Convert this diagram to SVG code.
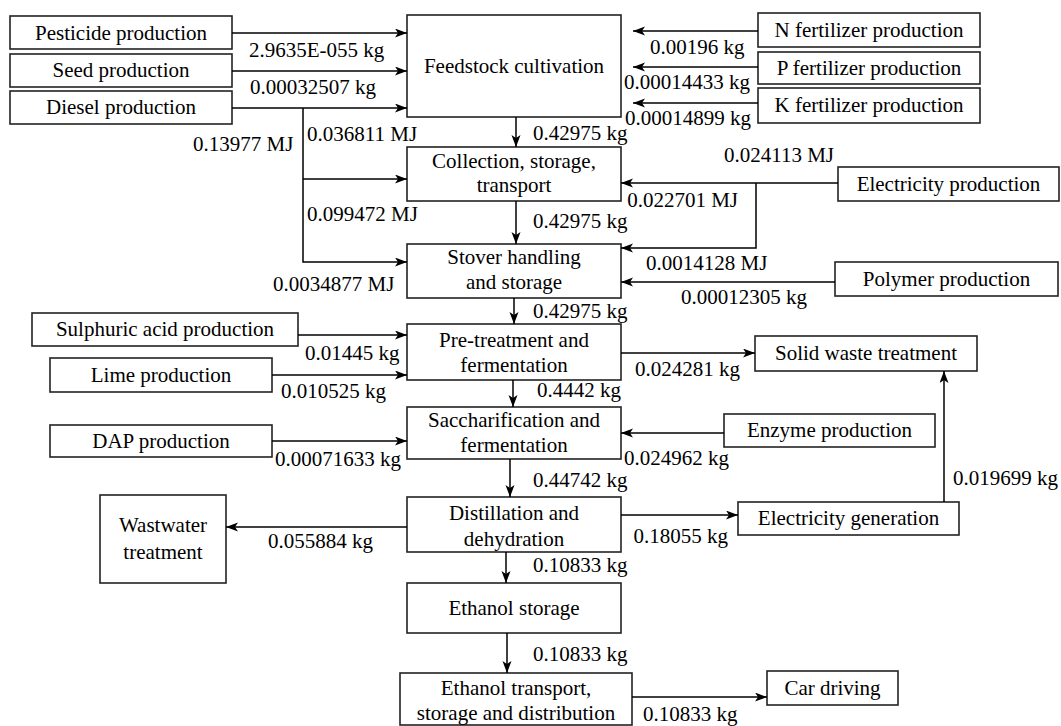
<svg xmlns="http://www.w3.org/2000/svg" width="1061" height="726" viewBox="0 0 1061 726" font-family="Liberation Serif, Times New Roman, serif" style="font-family:'Liberation Serif','Times New Roman',serif">
<defs>
<marker id="ah" markerWidth="13" markerHeight="10" refX="12" refY="4.5" orient="auto" markerUnits="userSpaceOnUse">
<path d="M0,0 L12,4.5 L0,9 L3,4.5 z" fill="#000"/>
</marker>
<style>
text{font-family:'Liberation Serif','Times New Roman',serif;font-size:21px;fill:#000}
.b{fill:#fff;stroke:#222;stroke-width:1.6}
.c{text-anchor:middle}
.e{text-anchor:end}
.l{fill:none;stroke:#000;stroke-width:1.5}
.a{marker-end:url(#ah)}
</style>
</defs>
<rect width="1061" height="726" fill="#fff"/>
<g id="pesticide"><rect class="b" x="10" y="16" width="222" height="33"/><text class="c" x="121" y="40">Pesticide production</text></g>
<g id="seed"><rect class="b" x="10" y="54" width="222" height="33"/><text class="c" x="121" y="77">Seed production</text></g>
<g id="diesel"><rect class="b" x="10" y="91" width="222" height="33"/><text class="c" x="121" y="114">Diesel production</text></g>
<g id="feedstock"><rect class="b" x="407" y="15" width="214" height="102"/><text class="c" x="514" y="73">Feedstock cultivation</text></g>
<g id="nfert"><rect class="b" x="758" y="13" width="222" height="34"/><text class="c" x="869" y="37">N fertilizer production</text></g>
<g id="pfert"><rect class="b" x="758" y="52" width="222" height="32"/><text class="c" x="869" y="75">P fertilizer production</text></g>
<g id="kfert"><rect class="b" x="758" y="88" width="222" height="35"/><text class="c" x="869" y="112">K fertilizer production</text></g>
<g id="collection"><rect class="b" x="407" y="147" width="214" height="54"/><text class="c" x="514" y="168">Collection, storage,</text><text class="c" x="514" y="192">transport</text></g>
<g id="elecprod"><rect class="b" x="838" y="167" width="221" height="34"/><text class="c" x="948.5" y="191">Electricity production</text></g>
<g id="stover"><rect class="b" x="407" y="244" width="214" height="54"/><text class="c" x="514" y="264">Stover handling</text><text class="c" x="514" y="289">and storage</text></g>
<g id="polymer"><rect class="b" x="835" y="262" width="223" height="34"/><text class="c" x="946.5" y="286">Polymer production</text></g>
<g id="sulphuric"><rect class="b" x="32" y="313" width="266" height="33"/><text class="c" x="165" y="336">Sulphuric acid production</text></g>
<g id="pretreat"><rect class="b" x="407" y="324" width="214" height="56"/><text class="c" x="514" y="347">Pre-treatment and</text><text class="c" x="514" y="372">fermentation</text></g>
<g id="solidwaste"><rect class="b" x="755" y="336" width="222" height="35"/><text class="c" x="866" y="360">Solid waste treatment</text></g>
<g id="lime"><rect class="b" x="50" y="358" width="222" height="34"/><text class="c" x="161" y="382">Lime production</text></g>
<g id="dap"><rect class="b" x="50" y="425" width="222" height="32"/><text class="c" x="161" y="448">DAP production</text></g>
<g id="sacch"><rect class="b" x="407" y="407" width="214" height="52"/><text class="c" x="514" y="427">Saccharification and</text><text class="c" x="514" y="452">fermentation</text></g>
<g id="enzyme"><rect class="b" x="724" y="414" width="211" height="33"/><text class="c" x="829.5" y="437">Enzyme production</text></g>
<g id="wastewater"><rect class="b" x="100" y="495" width="126" height="88"/><text class="c" x="163" y="532">Wastwater</text><text class="c" x="163" y="559">treatment</text></g>
<g id="distill"><rect class="b" x="407" y="497" width="214" height="55"/><text class="c" x="514" y="520">Distillation and</text><text class="c" x="514" y="546">dehydration</text></g>
<g id="elecgen"><rect class="b" x="738" y="502" width="221" height="33"/><text class="c" x="848.5" y="525">Electricity generation</text></g>
<g id="ethstorage"><rect class="b" x="407" y="583" width="214" height="50"/><text class="c" x="514" y="615">Ethanol storage</text></g>
<g id="transport"><rect class="b" x="400" y="673" width="232" height="52"/><text class="c" x="516" y="695">Ethanol transport,</text><text class="c" x="516" y="720">storage and distribution</text></g>
<g id="car"><rect class="b" x="767" y="671" width="131" height="34"/><text class="c" x="832.5" y="695">Car driving</text></g>

<g id="connectors">
<path class="l a" d="M232,33 H407"/>
<path class="l a" d="M232,71 H407"/>
<path class="l a" d="M232,108 H407"/>
<path class="l a" d="M303,108 V262 H407"/>
<path class="l a" d="M303,179 H407"/>
<path class="l a" d="M758,31 H633"/>
<path class="l a" d="M758,67 H633"/>
<path class="l a" d="M758,103 H633"/>
<path class="l a" d="M516,117 V147"/>
<path class="l a" d="M838,183 H621"/>
<path class="l a" d="M756,183 V248 H621"/>
<path class="l a" d="M516,201 V244"/>
<path class="l a" d="M835,282 H621"/>
<path class="l a" d="M514,298 V324"/>
<path class="l a" d="M298,335 H407"/>
<path class="l a" d="M272,375 H407"/>
<path class="l a" d="M621,353 H755"/>
<path class="l a" d="M513,380 V407"/>
<path class="l a" d="M272,441 H407"/>
<path class="l a" d="M724,433 H621"/>
<path class="l a" d="M510,459 V497"/>
<path class="l a" d="M407,527 H226"/>
<path class="l a" d="M621,515 H738"/>
<path class="l a" d="M944,502 V371"/>
<path class="l a" d="M506,552 V583"/>
<path class="l a" d="M507,633 V673"/>
<path class="l a" d="M632,697 H767"/>
</g>

<g id="labels">
<text x="249" y="57">2.9635E-055 kg</text>
<text x="250" y="94">0.00032507 kg</text>
<text x="193" y="151">0.13977 MJ</text>
<text x="307" y="141">0.036811 MJ</text>
<text x="307" y="221">0.099472 MJ</text>
<text x="273" y="291">0.0034877 MJ</text>
<text x="305" y="360">0.01445 kg</text>
<text x="281" y="398">0.010525 kg</text>
<text x="275" y="466">0.00071633 kg</text>
<text x="268" y="548">0.055884 kg</text>
<text x="533" y="140">0.42975 kg</text>
<text x="533" y="228">0.42975 kg</text>
<text x="533" y="318">0.42975 kg</text>
<text x="537" y="397">0.4442 kg</text>
<text x="533" y="487">0.44742 kg</text>
<text x="533" y="572">0.10833 kg</text>
<text x="533" y="661">0.10833 kg</text>
<text x="643" y="721">0.10833 kg</text>
<text x="650" y="54">0.00196 kg</text>
<text class="e" x="750" y="89">0.00014433 kg</text>
<text class="e" x="751" y="125">0.00014899 kg</text>
<text class="e" x="834" y="162">0.024113 MJ</text>
<text class="e" x="738" y="207">0.022701 MJ</text>
<text x="646" y="270">0.0014128 MJ</text>
<text x="681" y="304">0.00012305 kg</text>
<text class="e" x="740" y="376">0.024281 kg</text>
<text class="e" x="729" y="465">0.024962 kg</text>
<text class="e" x="728" y="543">0.18055 kg</text>
<text x="953" y="485">0.019699 kg</text>
</g>
</svg>
